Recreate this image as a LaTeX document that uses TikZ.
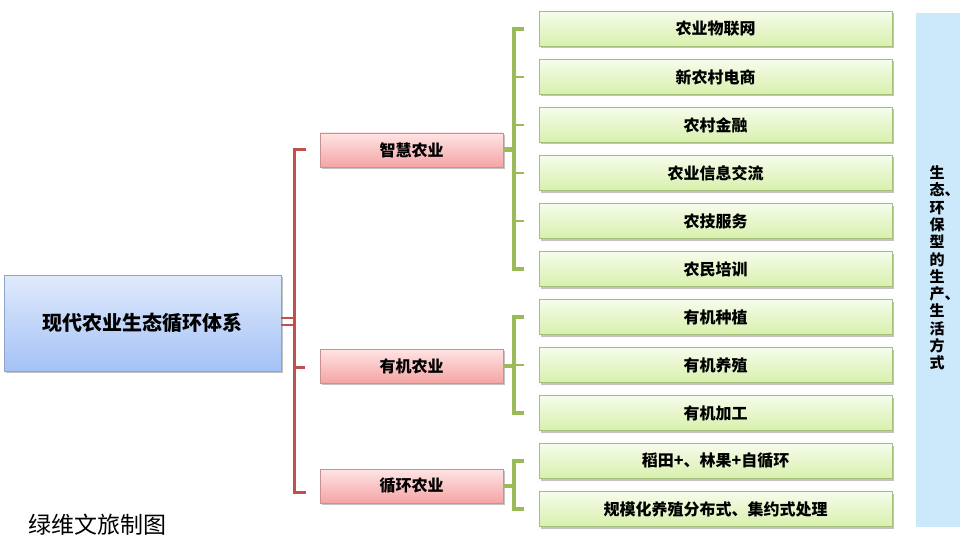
\documentclass[tikz,border=0pt]{standalone}
\usepackage{fontspec}
\setmainfont{Noto Sans CJK SC}
\usetikzlibrary{shadows}
\definecolor{leafb}{HTML}{A4BE7C}
\definecolor{leaftop}{HTML}{F6FCEC}
\definecolor{leafbot}{HTML}{D8F0AC}
\definecolor{midb}{HTML}{C89090}
\definecolor{midtop}{HTML}{FFE4E4}
\definecolor{midbot}{HTML}{F4A4A4}
\definecolor{rootb}{HTML}{8EA4C8}
\definecolor{roottop}{HTML}{E0EAFC}
\definecolor{rootbot}{HTML}{A4C2F6}
\definecolor{redl}{HTML}{C0504D}
\definecolor{greenl}{HTML}{9BBB59}
\definecolor{panel}{HTML}{CCE9FC}
\begin{document}
\begin{tikzpicture}[x=1pt,y=-1pt,
  shad/.style={drop shadow={shadow xshift=1.5pt, shadow yshift=-2pt, opacity=0.4, fill=black!60}},
  leaf/.style={draw=leafb, line width=0.8pt, top color=leaftop, bottom color=leafbot, minimum width=353pt, minimum height=35pt, inner sep=0pt, font=\bfseries\fontsize{16}{16}\selectfont, shad},
  mid/.style={draw=midb, line width=0.8pt, top color=midtop, bottom color=midbot, minimum width=183pt, minimum height=34pt, inner sep=0pt, font=\bfseries\fontsize{16}{16}\selectfont, shad},
  rootbox/.style={draw=rootb, line width=0.8pt, top color=roottop, bottom color=rootbot, minimum width=277pt, minimum height=96pt, inner sep=0pt, font=\bfseries\fontsize{20}{20}\selectfont, shad},
  redline/.style={draw=redl, line width=3pt},
  greenline/.style={draw=greenl, line width=3.2pt},
  gtick/.style={draw=greenl, line width=2.4pt}]
\useasboundingbox (0,0) rectangle (960,540);
\fill[panel] (916,13) rectangle (960,527);
\node[font=\bfseries\fontsize{15}{17.3}\selectfont, align=center, inner sep=0pt] (side) at (937,268)
  {生\\态\rlap{、}\\环\\保\\型\\的\\生\\产\rlap{、}\\生\\活\\方\\式};

\node[rootbox] (root) at (142.5,323) {现代农业生态循环体系};

\node[mid] (m1) at (411.5,150) {智慧农业};
\node[mid] (m2) at (411.5,366) {有机农业};
\node[mid] (m3) at (411.5,486) {循环农业};

\node[leaf] (l1) at (715.5,29) {农业物联网};
\node[leaf] (l2) at (715.5,77) {新农村电商};
\node[leaf] (l3) at (715.5,125) {农村金融};
\node[leaf] (l4) at (715.5,173) {农业信息交流};
\node[leaf] (l5) at (715.5,221) {农技服务};
\node[leaf] (l6) at (715.5,269) {农民培训};
\node[leaf] (l7) at (715.5,317) {有机种植};
\node[leaf] (l8) at (715.5,365) {有机养殖};
\node[leaf] (l9) at (715.5,413) {有机加工};
\node[leaf] (l10) at (715.5,461) {稻田+、林果+自循环};
\node[leaf] (l11) at (715.5,509) {规模化养殖分布式、集约式处理};

% red bracket
\coordinate (rx) at (294,0);
\draw[draw=redl, line width=2.2pt] (root.east |- 0,318) -- (rx |- 0,318);
\draw[draw=redl, line width=2.2pt] (root.east |- 0,325) -- (rx |- 0,325);
\draw[redline] ([xshift=12pt]rx |- m1) -- (rx |- m1) -- (rx |- 0,492) -- ([xshift=12pt]rx |- 0,492);
\draw[redline] (rx |- 0,367) -- ([xshift=11pt]rx |- 0,367);

% green brackets
\coordinate (gx) at (514,0);
\draw[greenline, line width=5pt] (m1.east) -- (gx |- m1);
\draw[greenline] ([xshift=10pt]gx |- l1) -- (gx |- l1) -- (gx |- l6) -- ([xshift=10pt]gx |- l6);
\foreach \n in {l2,l3,l4,l5} \draw[gtick] (gx |- \n) -- ([xshift=10pt]gx |- \n);
\draw[greenline] (m2.east) -- (gx |- m2);
\draw[greenline] ([xshift=10pt]gx |- l7) -- (gx |- l7) -- (gx |- l9) -- ([xshift=10pt]gx |- l9);
\draw[gtick] (gx |- l8) -- ([xshift=10pt]gx |- l8);
\draw[greenline] (m3.east) -- (gx |- m3);
\draw[greenline] ([xshift=10pt]gx |- l10) -- (gx |- l10) -- (gx |- l11) -- ([xshift=10pt]gx |- l11);

\node[anchor=west, font=\fontsize{23}{23}\selectfont, inner sep=0pt] (credit) at (28,525) {绿维文旅制图};
\end{tikzpicture}
\end{document}
